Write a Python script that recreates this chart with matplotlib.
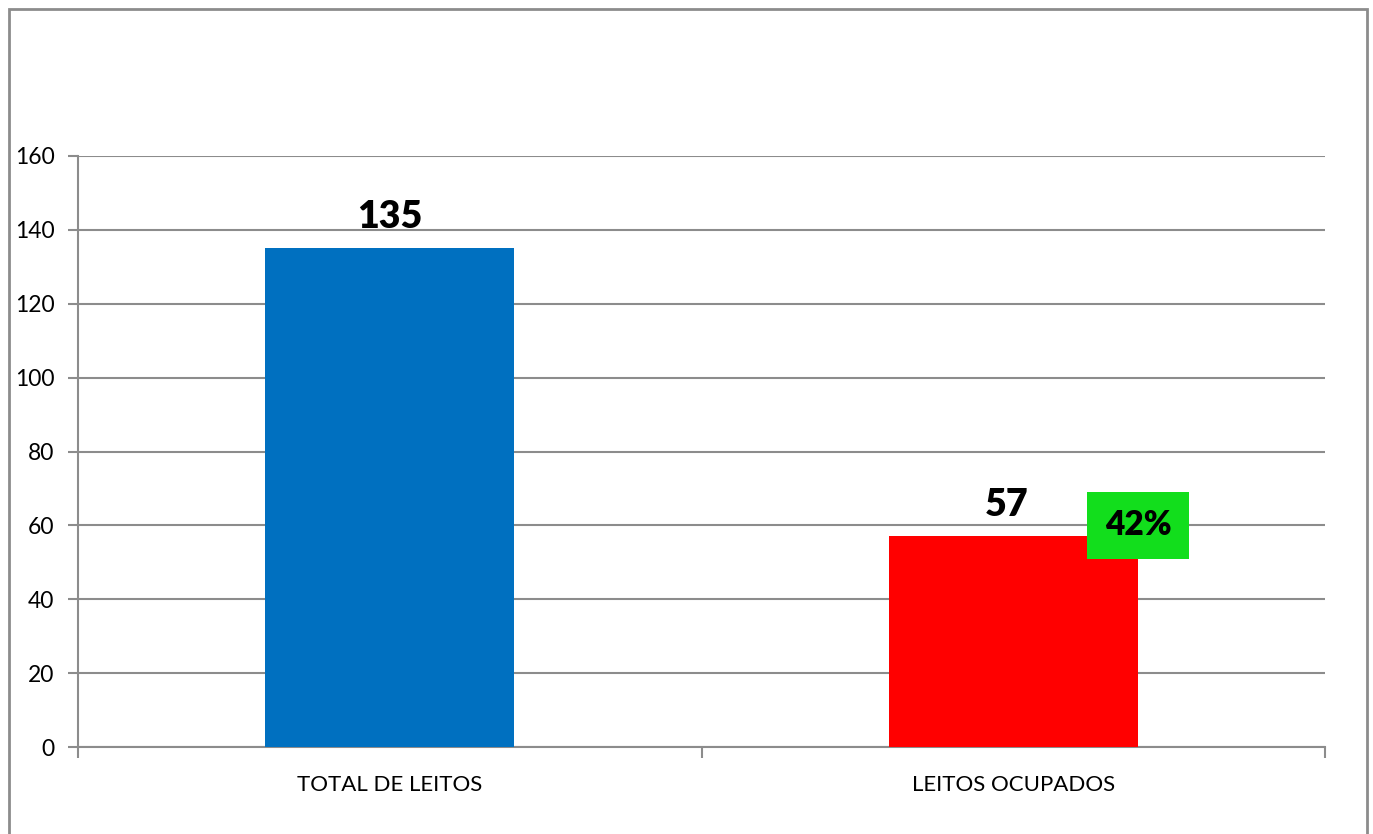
import matplotlib
matplotlib.use("Agg")
import matplotlib.pyplot as plt
from matplotlib.patches import Rectangle

categories = ["TOTAL DE LEITOS", "LEITOS OCUPADOS"]
values = [135, 57]
bar_colors = ["#0070C0", "#FF0000"]
pct_label = "42%"
y_ticks = [0, 20, 40, 60, 80, 100, 120, 140, 160]

plt.rcParams['font.family'] = ['Lato', 'DejaVu Sans']

fig = plt.figure(figsize=(13.73, 8.34), dpi=100)
ax = fig.add_axes([78/1373, 1 - 747/834, (1325-78)/1373, (747-156)/834])

x = list(range(len(categories)))
ax.bar(x, values, width=0.4, color=bar_colors, zorder=3)
ax.set_xlim(-0.5, len(categories) - 0.5)
ax.set_ylim(0, 160)
ax.set_yticks(y_ticks)
ax.set_yticklabels([str(t) for t in y_ticks], fontsize=16.5)
ax.yaxis.grid(True, color="#8c8c8c", linewidth=1.5, zorder=0)

ax.set_xticks(x)
ax.set_xticklabels(categories, fontsize=16)
ax.tick_params(axis='x', length=0, pad=20)
ax.set_xticks([-0.5, 0.5, 1.5], minor=True)
ax.tick_params(axis='x', which='minor', length=8, width=1.5, color="#8c8c8c")
ax.tick_params(axis='y', length=7, width=1.5, color="#8c8c8c", pad=10)

for s in ["top", "right"]:
    ax.spines[s].set_visible(False)
for s in ["left", "bottom"]:
    ax.spines[s].set_color("#8c8c8c")
    ax.spines[s].set_linewidth(1.5)

label_dx = [0.0, -0.01]
for xi, v, dx in zip(x, values, label_dx):
    ax.text(xi + dx, v + 4, str(v), ha='center', va='bottom', fontsize=27,
            fontweight='heavy', zorder=5)

ax.text(1.2, 60, pct_label, ha='center', va='center', fontsize=24,
        fontweight='heavy', zorder=6,
        bbox=dict(boxstyle="square,pad=0.52", facecolor="#12DE1C",
                  edgecolor="none"))

fig.patches.append(Rectangle((9/1373, -0.05), (1367-9)/1373, 1.05 - 9/834,
                             transform=fig.transFigure, fill=False,
                             edgecolor="#8c8c8c", linewidth=2))

fig.savefig("out.png", dpi=100)
